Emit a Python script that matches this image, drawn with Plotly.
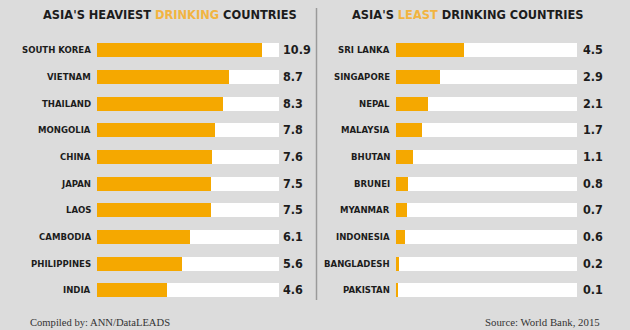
import plotly.graph_objects as go

# Alcohol consumption, litres of pure alcohol per capita (World Bank, 2015)
heavy_countries = ["SOUTH KOREA", "VIETNAM", "THAILAND", "MONGOLIA", "CHINA",
                   "JAPAN", "LAOS", "CAMBODIA", "PHILIPPINES", "INDIA"]
heavy_values = [10.9, 8.7, 8.3, 7.8, 7.6, 7.5, 7.5, 6.1, 5.6, 4.6]

light_countries = ["SRI LANKA", "SINGAPORE", "NEPAL", "MALAYSIA", "BHUTAN",
                   "BRUNEI", "MYANMAR", "INDONESIA", "BANGLADESH", "PAKISTAN"]
light_values = [4.5, 2.9, 2.1, 1.7, 1.1, 0.8, 0.7, 0.6, 0.2, 0.1]

scale_max = 12  # full length of the white track behind each bar

W, H = 630, 330
BG = "#dcdcdc"
ORANGE = "#f5a800"
TITLE_ORANGE = "#f2b440"
INK = "#1c1c1c"
COND = "DejaVu Sans Condensed, sans-serif"
SERIF = "Liberation Serif, DejaVu Serif, serif"

def px_x(p):
    return p / W

def px_y(p):
    return 1 - p / H

row_top, row_bottom = 50, 290
step = (row_bottom - row_top) / 9
y_domain = [px_y(row_bottom + step / 2), px_y(row_top - step / 2)]

fig = go.Figure()

panels = [
    ("x", "y", heavy_countries, heavy_values, (97, 279), 2),
    ("x2", "y2", light_countries, light_values, (396, 577), 4),
]

annotations = []
for xa, ya, cats, vals, (x0, x1), val_shift in panels:
    idx = list(range(len(cats)))
    fig.add_trace(go.Bar(
        x=[scale_max] * len(cats), y=idx, orientation="h",
        marker=dict(color="white", line=dict(width=0)),
        width=0.53, xaxis=xa, yaxis=ya, hoverinfo="skip", showlegend=False,
    ))
    fig.add_trace(go.Bar(
        x=vals, y=idx, orientation="h",
        marker=dict(color=ORANGE, line=dict(width=0)),
        width=0.53, xaxis=xa, yaxis=ya, showlegend=False,
        hovertext=cats, hoverinfo="text+x",
    ))
    for i, (c, v) in enumerate(zip(cats, vals)):
        annotations.append(dict(
            xref=xa, yref=ya, x=0, y=i, text=f"<b>{c}</b>", showarrow=False,
            xanchor="right", yanchor="middle", xshift=-4,
            font=dict(family=COND, size=9.5, color=INK),
        ))
        annotations.append(dict(
            xref=xa, yref=ya, x=scale_max, y=i, text=f"<b>{v:.1f}</b>",
            showarrow=False, xanchor="left", yanchor="middle",
            xshift=val_shift,
            font=dict(family=COND, size=12.5, color=INK),
        ))

# Panel titles
annotations.append(dict(
    xref="paper", yref="paper", x=px_x(170), y=px_y(15),
    text=f"<b>ASIA'S HEAVIEST <span style='color:{TITLE_ORANGE}'>DRINKING</span> COUNTRIES</b>",
    showarrow=False, xanchor="center", yanchor="middle",
    font=dict(family=COND, size=12.7, color=INK),
))
annotations.append(dict(
    xref="paper", yref="paper", x=px_x(468), y=px_y(15),
    text=f"<b>ASIA'S <span style='color:{TITLE_ORANGE}'>LEAST</span> DRINKING COUNTRIES</b>",
    showarrow=False, xanchor="center", yanchor="middle",
    font=dict(family=COND, size=12.7, color=INK),
))

# Footer credits
annotations.append(dict(
    xref="paper", yref="paper", x=px_x(28), y=px_y(322),
    text="Compiled by: ANN/DataLEADS", showarrow=False,
    xanchor="left", yanchor="middle",
    font=dict(family=SERIF, size=10.6, color="#333333"),
))
annotations.append(dict(
    xref="paper", yref="paper", x=px_x(602), y=px_y(322),
    text="Source: World Bank, 2015", showarrow=False,
    xanchor="right", yanchor="middle",
    font=dict(family=SERIF, size=10.8, color="#333333"),
))

axis_common = dict(range=[0, scale_max], showgrid=False, zeroline=False,
                   showticklabels=False, showline=False, fixedrange=True)
yaxis_common = dict(range=[9.5, -0.5], domain=y_domain, showgrid=False,
                    zeroline=False, showticklabels=False, showline=False,
                    fixedrange=True)

fig.update_layout(
    width=W, height=H,
    margin=dict(l=0, r=0, t=0, b=0),
    paper_bgcolor=BG, plot_bgcolor=BG,
    barmode="overlay", bargap=0,
    xaxis=dict(domain=[px_x(97), px_x(279)], anchor="y", **axis_common),
    yaxis=dict(anchor="x", **yaxis_common),
    xaxis2=dict(domain=[px_x(396), px_x(577)], anchor="y2", **axis_common),
    yaxis2=dict(anchor="x2", **yaxis_common),
    annotations=annotations,
    shapes=[dict(
        type="line", xref="paper", yref="paper",
        x0=px_x(316.5), x1=px_x(316.5), y0=px_y(8), y1=px_y(300),
        line=dict(color="#9a9a9a", width=1.5),
    )],
)

fig.write_html("out.html")
